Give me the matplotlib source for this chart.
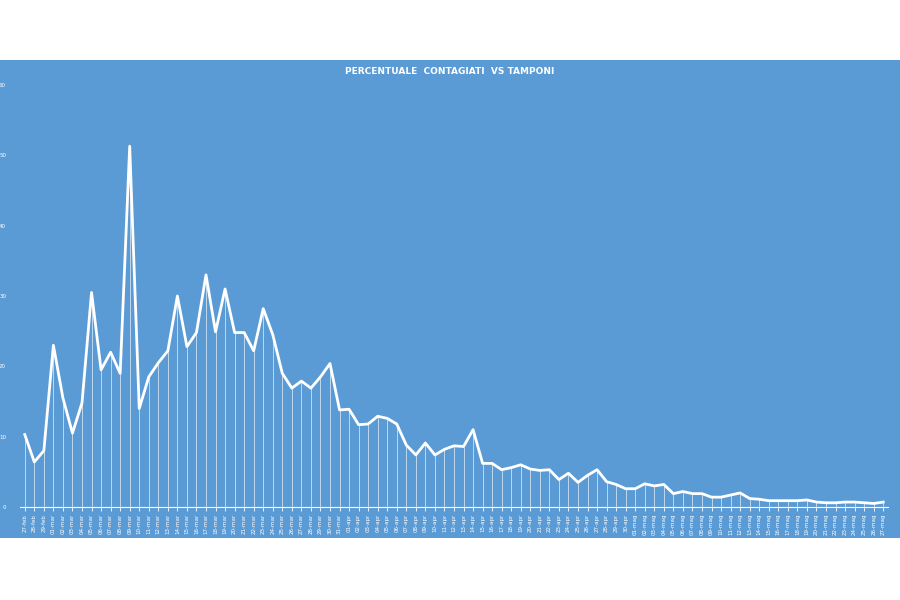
import matplotlib
matplotlib.use("Agg")
import matplotlib.pyplot as plt
from matplotlib.patches import Rectangle

dates = (["27-feb", "28-feb", "29-feb"] +
         ["%02d-mar" % d for d in range(1, 32)] +
         ["%02d-apr" % d for d in range(1, 31)] +
         ["%02d-mag" % d for d in range(1, 28)])
values = [10.3, 6.4, 8.0, 23.0, 15.5, 10.5, 14.8, 30.5, 19.5, 22.0, 19.0, 51.3,
          14.0, 18.5, 20.5, 22.2, 30.0, 22.8, 24.8, 33.0, 24.9, 31.0, 24.8, 24.8,
          22.2, 28.2, 24.5, 19.0, 16.9, 17.9, 16.9, 18.5, 20.4, 13.8, 13.9, 11.7,
          11.8, 12.9, 12.6, 11.8, 8.8, 7.4, 9.1, 7.4, 8.2, 8.7, 8.6, 11.0, 6.2,
          6.2, 5.3, 5.6, 6.0, 5.4, 5.2, 5.3, 3.9, 4.8, 3.5, 4.5, 5.3, 3.6, 3.2,
          2.6, 2.6, 3.3, 3.0, 3.2, 1.9, 2.2, 1.9, 1.9, 1.4, 1.4, 1.7, 2.0, 1.2,
          1.1, 0.9, 0.9, 0.9, 0.9, 1.0, 0.7, 0.6, 0.6, 0.7, 0.7, 0.6, 0.5, 0.7]
yticks = [0, 10, 20, 30, 40, 50, 60]
title = "PERCENTUALE  CONTAGIATI  VS TAMPONI"

blue = "#5b9bd5"
fig = plt.figure(figsize=(9, 6), dpi=100)
fig.patches.append(Rectangle((0, 62/600), 1, 478/600, transform=fig.transFigure,
                             facecolor=blue, edgecolor="none", zorder=-10))
fig.text(0.5, 1 - 72/600, title, color="white", fontsize=6.5, fontweight="bold",
         ha="center", va="center")
ax = fig.add_axes([20/900, 93/600, 868/900, 422/600])
ax.set_zorder(5)
ax.patch.set_alpha(0)
x = list(range(len(values)))
ax.vlines(x, 0, values, color="white", lw=0.6, alpha=0.7)
ax.plot(x, values, color="white", lw=2)
ax.set_xlim(-0.5, len(values) - 0.5)
ax.set_ylim(0, 60)
ax.set_yticks(yticks)
ax.set_yticklabels([str(t) for t in yticks], fontsize=4, color="white")
ax.tick_params(axis="y", length=0, pad=10)
ax.set_xticks(x)
ax.set_xticklabels(dates, rotation=90, fontsize=4, color="white")
ax.tick_params(axis="x", length=3, color="white", width=0.6, pad=2)
for s in ["top", "right", "left"]:
    ax.spines[s].set_visible(False)
ax.spines["bottom"].set_color("white")
ax.spines["bottom"].set_linewidth(0.8)
fig.savefig("out.png", dpi=100, facecolor="white")
